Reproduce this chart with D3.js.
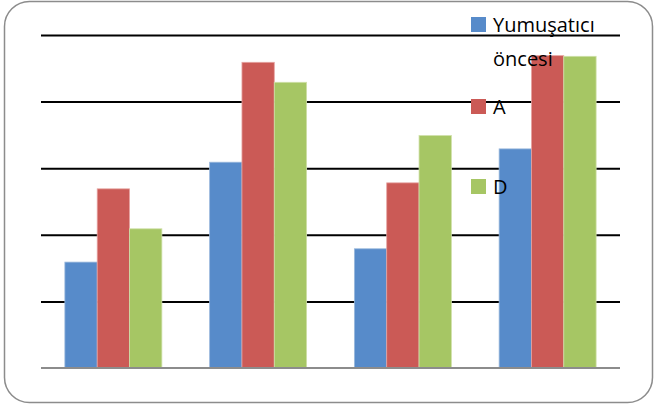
<!DOCTYPE html>
<html>
<head>
<meta charset="utf-8">
<script src="https://cdn.jsdelivr.net/npm/d3@7"></script>
<style>
  body { margin: 0; background: #fff; }
  svg { display: block; }
</style>
</head>
<body>
<svg width="654" height="408"></svg>
<script>
// groups along x (no labels shown on the chart)
const categories = ["1", "2", "3", "4"];
const seriesNames = ["Yumuşatıcı öncesi", "A", "D"];
const seriesColors = ["#578bca", "#cb5a56", "#a6c664"];
const edgeColors = ["#9ab8dc", "#e6a3a1", "#cfe0a8"];
// values, one array per series
const yumusaticiOncesi = [1.59, 3.09, 1.79, 3.29];
const seriesA = [2.69, 4.59, 2.78, 4.69];
const seriesD = [2.09, 4.29, 3.49, 4.68];
const yTicks = [1, 2, 3, 4, 5];

const series = [yumusaticiOncesi, seriesA, seriesD];

const svg = d3.select("svg");
const margin = {top: 35, right: 34, bottom: 40, left: 41};
const width = 654 - margin.left - margin.right;
const height = 408 - margin.top - margin.bottom;

// outer rounded frame
svg.append("rect")
    .attr("x", 4.5).attr("y", 1.5)
    .attr("width", 648).attr("height", 401)
    .attr("rx", 25).attr("ry", 25)
    .attr("fill", "#fff")
    .attr("stroke", "#8c8c8c")
    .attr("stroke-width", 1.5);

const g = svg.append("g").attr("transform", "translate(" + margin.left + "," + margin.top + ")");

const x0 = d3.scaleBand()
    .domain(categories)
    .range([0, width])
    .paddingInner(0.33)
    .paddingOuter(0.165);
const x1 = d3.scaleBand()
    .domain(d3.range(series.length))
    .range([0, x0.bandwidth()]);
const y = d3.scaleLinear()
    .domain([0, 5])
    .range([height, 0]);

// gridlines
const grid = g.append("g")
    .call(d3.axisLeft(y).tickValues(yTicks).tickSize(-width).tickFormat(""));
grid.select(".domain").remove();
grid.selectAll(".tick line")
    .attr("stroke", "#000")
    .attr("stroke-width", 2);

// bars
const groups = g.selectAll(".grp")
    .data(categories)
  .enter().append("g")
    .attr("class", "grp")
    .attr("transform", function(d) { return "translate(" + x0(d) + ",0)"; });

groups.selectAll("rect")
    .data(function(d, i) { return series.map(function(s, k) { return {k: k, v: s[i]}; }); })
  .enter().append("rect")
    .attr("x", function(d) { return x1(d.k); })
    .attr("y", function(d) { return y(d.v); })
    .attr("width", x1.bandwidth())
    .attr("height", function(d) { return height - y(d.v); })
    .attr("fill", function(d) { return seriesColors[d.k]; })
    .attr("stroke", function(d) { return edgeColors[d.k]; })
    .attr("stroke-width", 0.8);

// baseline
g.append("line")
    .attr("x1", 0).attr("x2", width)
    .attr("y1", y(0)).attr("y2", y(0))
    .attr("stroke", "#8c8c8c")
    .attr("stroke-width", 2);

// legend, drawn on top of the plot
const legendRows = [
  {k: 0, lines: ["Yumuşatıcı", "öncesi"], top: 17},
  {k: 1, lines: ["A"], top: 99},
  {k: 2, lines: ["D"], top: 179}
];
const legend = svg.append("g");
legendRows.forEach(function(r) {
  legend.append("rect")
      .attr("x", 471).attr("y", r.top)
      .attr("width", 15).attr("height", 15)
      .attr("fill", seriesColors[r.k]);
  r.lines.forEach(function(t, i) {
    legend.append("text")
        .attr("x", 493)
        .attr("y", r.top + 15 + i * 34)
        .attr("font-family", "Open Sans, sans-serif")
        .attr("font-size", 20)
        .attr("fill", "#000")
        .text(t);
  });
});
</script>
</body>
</html>
